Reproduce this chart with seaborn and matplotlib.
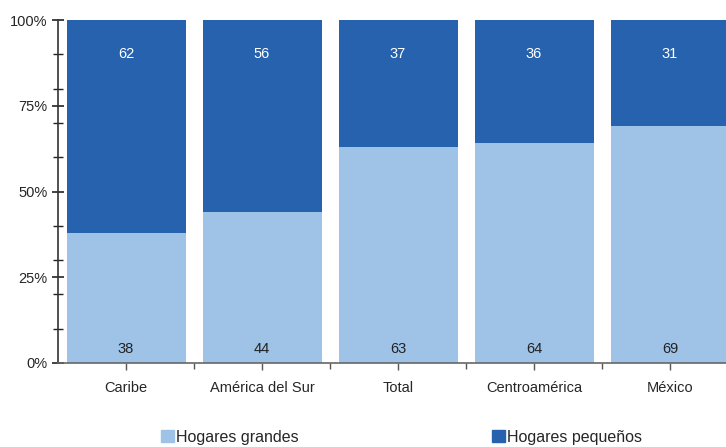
import matplotlib
matplotlib.use("Agg")
import matplotlib.pyplot as plt
import seaborn as sns
import pandas as pd
from matplotlib.patches import Patch

sns.set_theme(style="white")
plt.rcParams["font.family"] = ["Liberation Sans", "DejaVu Sans"]

regions = ["Caribe", "América del Sur", "Total", "Centroamérica", "México"]
grandes = [38, 44, 63, 64, 69]
pequenos = [62, 56, 37, 36, 31]

LIGHT = "#9EC3E7"
DARK = "#2662AD"

df = pd.DataFrame({"region": regions, "grandes": grandes, "pequenos": pequenos})
df["total"] = df["grandes"] + df["pequenos"]

fig = plt.figure(figsize=(7.26, 4.47), dpi=100)
# axes run past the right edge, as in the original (last bar is clipped)
ax = fig.add_axes([58 / 726, 1 - 363 / 447, 680 / 726, 343 / 447])

# stacked 100% bars: full height in dark, bottom segment in light on top of it
sns.barplot(data=df, x="region", y="total", color=DARK, saturation=1,
            width=0.875, linewidth=0, ax=ax)
sns.barplot(data=df, x="region", y="grandes", color=LIGHT, saturation=1,
            width=0.875, linewidth=0, ax=ax)

for i, row in df.iterrows():
    ax.text(i, 4, f"{row['grandes']}", ha="center", va="center",
            fontsize=10.5, color="#222222")
    ax.text(i, 90, f"{row['pequenos']}", ha="center", va="center",
            fontsize=10.5, color="white")

ax.set_xlim(-0.5, 4.5)
ax.set_ylim(0, 100)
ax.set_xlabel("")
ax.set_ylabel("")

ax.set_yticks([0, 25, 50, 75, 100])
ax.set_yticklabels(["0%", "25%", "50%", "75%", "100%"], fontsize=10.5)
ax.set_yticks([10, 20, 30, 40, 60, 70, 80, 90], minor=True)
ax.tick_params(axis="y", which="major", direction="inout", length=9, width=1.2,
               color="#222222", left=True, pad=3)
ax.tick_params(axis="y", which="minor", direction="inout", length=7, width=1,
               color="#222222", left=True)

ax.set_xticks(range(len(regions)))
ax.set_xticklabels(regions, fontsize=10.5)
ax.set_xticks([0.5, 1.5, 2.5, 3.5], minor=True)
ax.tick_params(axis="x", which="major", direction="out", length=5, width=1,
               color="#555555", bottom=True, pad=8)
ax.tick_params(axis="x", which="minor", direction="out", length=4, width=1,
               color="#555555", bottom=True)

for side in ["top", "right"]:
    ax.spines[side].set_visible(False)
ax.spines["left"].set_color("#333333")
ax.spines["left"].set_linewidth(1.2)
ax.spines["bottom"].set_color("#666666")
ax.spines["bottom"].set_linewidth(1.2)

handles = [Patch(color=LIGHT, label="Hogares grandes"),
           Patch(color=DARK, label="Hogares pequeños")]
fig.legend(handles=handles, loc="center", bbox_to_anchor=(0.553, 0.022),
           ncol=2, frameon=False, fontsize=11.5, handlelength=0.8,
           handleheight=0.8, handletextpad=0.15, columnspacing=12.1)

fig.savefig("out.png", dpi=100)
